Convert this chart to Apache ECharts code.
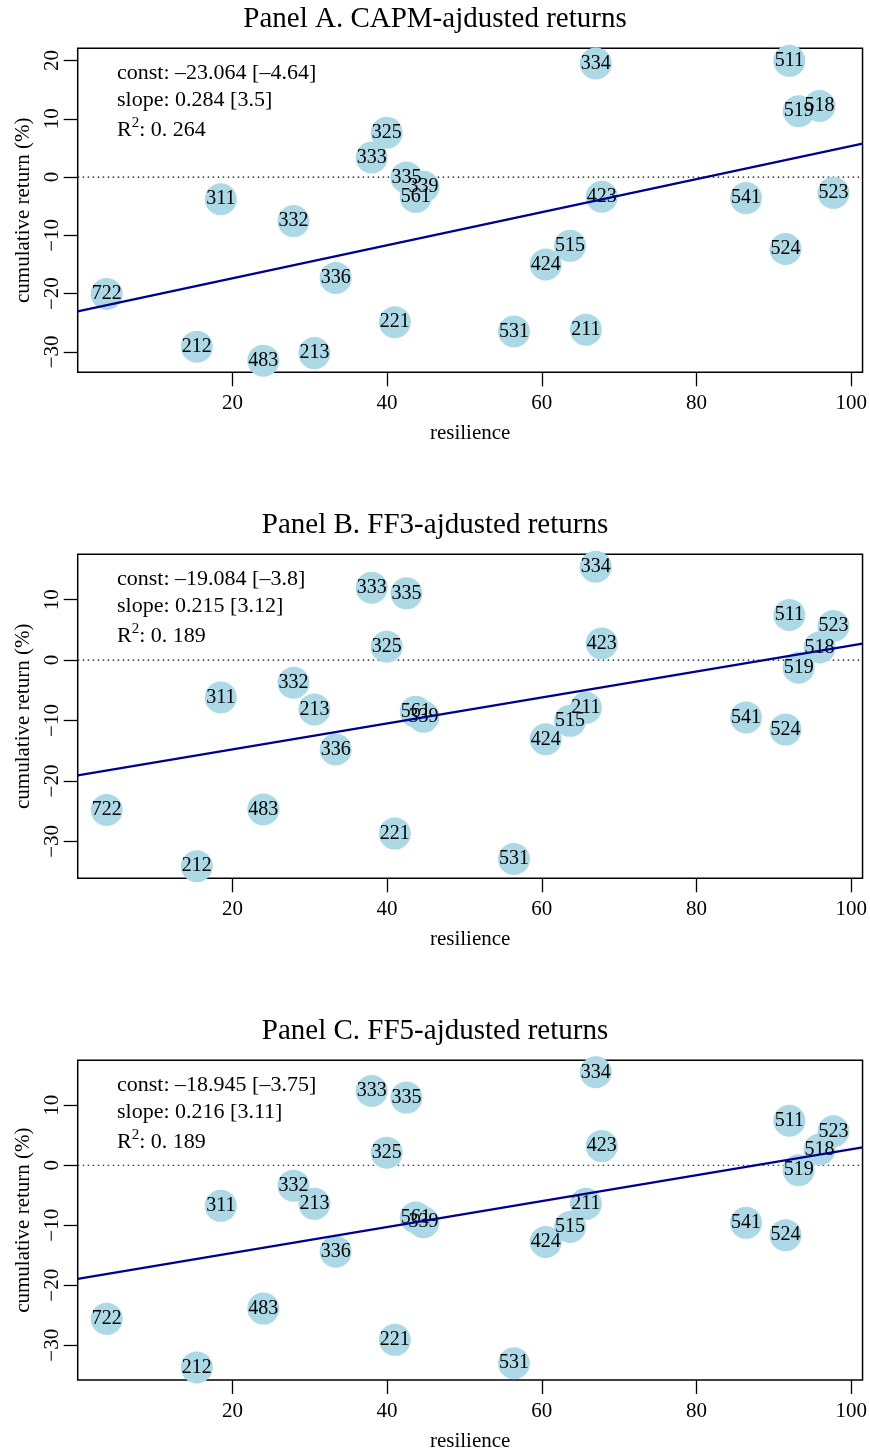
<!DOCTYPE html>
<html>
<head>
<meta charset="utf-8">
<script src="https://cdn.jsdelivr.net/npm/echarts@6/dist/echarts.min.js"></script>
<style>
  html, body { margin: 0; padding: 0; background: #fff; }
  #chart { width: 870px; height: 1453px; }
</style>
</head>
<body>
<div id="chart"></div>
<script>
// industry codes and their resilience score (same x in every panel)
const firms = ['722', '212', '483', '213', '311', '332', '336', '221', '325', '333', '335', '339', '561',
  '334', '511', '519', '518', '423', '541', '523', '515', '424', '524', '531', '211']
const resilience = [3.75, 15.4, 24.0, 30.6, 18.5, 27.9, 33.35, 41.0, 39.95, 38.0, 42.5, 44.7, 43.7,
  66.97, 92.0, 93.2, 95.9, 67.75, 86.4, 97.7, 63.65, 60.5, 91.5, 56.4, 65.7]

// cumulative returns (%)
const retCAPM = [-20.07, -29.1, -31.5, -30.2, -3.8, -7.55, -17.3, -24.9, 7.6, 3.37, -0.05, -1.65, -3.4,
  19.5, 19.95, 11.3, 12.2, -3.37, -3.6, -2.7, -11.8, -15.0, -12.35, -26.5, -26.2]
const retFF3 = [-24.8, -34.1, -24.7, -8.17, -6.18, -3.75, -14.8, -28.7, 2.2, 11.97, 11.04, -9.38, -8.55,
  15.45, 7.45, -1.27, 2.1, 2.76, -9.5, 5.63, -10.05, -13.1, -11.5, -32.9, -7.9]
const retFF5 = [-25.6, -33.7, -23.9, -6.43, -6.77, -3.4, -14.4, -29.1, 2.1, 12.38, 11.28, -9.5, -8.7,
  15.5, 7.43, -0.82, 2.64, 3.2, -9.6, 5.67, -10.3, -12.8, -11.65, -33.0, -6.43]

// regression results
const panelTitles = ['Panel A. CAPM-ajdusted returns', 'Panel B. FF3-ajdusted returns', 'Panel C. FF5-ajdusted returns']
const consts = [-23.064, -19.084, -18.945]
const constT = [-4.64, -3.8, -3.75]
const slopes = [0.284, 0.215, 0.216]
const slopeT = [3.5, 3.12, 3.11]
const r2Text = ['0. 264', '0. 189', '0. 189']

const xTicks = [20, 40, 60, 80, 100]
const yTicks = [[-30, -20, -10, 0, 10, 20], [-30, -20, -10, 0, 10], [-30, -20, -10, 0, 10]]

// axis ranges (R style 4% padding)
const X_MIN = 0
const X_MAX = 101.46
const yRanges = [[-33.5, 22.1], [-36.1, 17.5], [-35.8, 17.5]]

const returns = [retCAPM, retFF3, retFF5]
const gridTops = [48.3, 554.3, 1060.3]
const gridHeight = 324
const SERIF = 'Liberation Serif'

const minus = v => String(v).replace('-', '\u2212')
const dash = v => String(v).replace('-', '\u2013')

const chart = echarts.init(document.getElementById('chart'))

const grid = []
const xAxis = []
const yAxis = []
const series = []
const title = []
const graphic = []

returns.forEach((ret, p) => {
  const top = gridTops[p]
  grid.push({
    left: 77.7, right: 7.3, top: top, height: gridHeight,
    show: true, borderColor: '#000', borderWidth: 1.5, backgroundColor: 'transparent'
  })
  xAxis.push({
    type: 'value', gridIndex: p, min: X_MIN, max: X_MAX,
    name: 'resilience', nameLocation: 'middle', nameGap: 51,
    nameTextStyle: { fontFamily: SERIF, fontSize: 21, color: '#000' },
    axisLine: { show: false, onZero: false },
    axisTick: { show: true, length: 14, customValues: xTicks, lineStyle: { color: '#000', width: 1.3 } },
    axisLabel: { customValues: xTicks, margin: 21, fontFamily: SERIF, fontSize: 21, color: '#000' },
    splitLine: { show: false }
  })
  yAxis.push({
    type: 'value', gridIndex: p, min: yRanges[p][0], max: yRanges[p][1],
    name: 'cumulative return (%)', nameLocation: 'middle', nameGap: 43,
    nameTextStyle: { fontFamily: SERIF, fontSize: 21, color: '#000' },
    axisLine: { show: false, onZero: false },
    axisTick: { show: true, length: 14, customValues: yTicks[p], lineStyle: { color: '#000', width: 1.3 } },
    axisLabel: {
      customValues: yTicks[p], rotate: 90, margin: 15, fontFamily: SERIF, fontSize: 21, color: '#000',
      formatter: v => minus(v)
    },
    splitLine: { show: false }
  })

  // dotted zero line, behind the circles
  series.push({
    type: 'line', xAxisIndex: p, yAxisIndex: p, z: 1, silent: true, symbol: 'none',
    data: [[X_MIN, 0], [X_MAX, 0]],
    lineStyle: { color: '#000', width: 1.2, type: [1.5, 3.5] }
  })
  series.push({
    type: 'scatter', xAxisIndex: p, yAxisIndex: p, z: 2, symbolSize: 32, clip: true,
    data: resilience.map((x, i) => ({ name: firms[i], value: [x, ret[i]] })),
    itemStyle: { color: '#ADD8E6', opacity: 1 },
    label: { show: true, position: 'inside', formatter: '{b}', color: '#000', fontFamily: SERIF, fontSize: 20 },
    emphasis: { disabled: true }
  })
  // fitted line from the reported coefficients
  series.push({
    type: 'line', xAxisIndex: p, yAxisIndex: p, z: 5, silent: true, symbol: 'none',
    data: [[X_MIN, consts[p] + slopes[p] * X_MIN], [X_MAX, consts[p] + slopes[p] * X_MAX]],
    lineStyle: { color: '#00008B', width: 2.3 }
  })

  title.push({
    text: panelTitles[p], left: 'center', top: top - 48,
    textStyle: { fontFamily: SERIF, fontSize: 29, fontWeight: 'normal', color: '#000' }
  })

  const txt = { fontFamily: SERIF, fontSize: 22, fill: '#000' }
  graphic.push({
    type: 'text', x: 117, y: top + 25,
    style: Object.assign({ text: 'const: ' + dash(consts[p]) + ' [' + dash(constT[p]) + ']', verticalAlign: 'middle' }, txt)
  })
  graphic.push({
    type: 'text', x: 117, y: top + 51.5,
    style: Object.assign({ text: 'slope: ' + slopes[p] + ' [' + slopeT[p] + ']', verticalAlign: 'middle' }, txt)
  })
  graphic.push({
    type: 'text', x: 117, y: top + 80,
    style: {
      text: '{a|R}{s|2}{a|: ' + r2Text[p] + '}', verticalAlign: 'middle',
      rich: {
        a: { fontFamily: SERIF, fontSize: 22, color: '#000', verticalAlign: 'bottom', lineHeight: 25 },
        s: { fontFamily: SERIF, fontSize: 15, color: '#000', verticalAlign: 'top', lineHeight: 25, padding: [0, 0, 9, 0] }
      }
    }
  })
})

chart.setOption({
  animation: false,
  backgroundColor: '#fff',
  title,
  grid,
  xAxis,
  yAxis,
  series,
  graphic
})
</script>
</body>
</html>
